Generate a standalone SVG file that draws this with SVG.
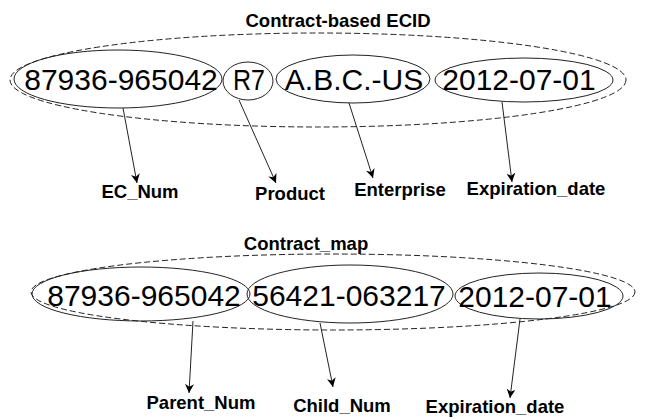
<svg xmlns="http://www.w3.org/2000/svg" width="650" height="420" viewBox="0 0 650 420">
<style>
.outer{fill:none;stroke:#222;stroke-width:1;stroke-dasharray:6,3}
.field{fill:none;stroke:#222;stroke-width:1}
.val{font-family:"Liberation Sans",Arial,sans-serif;font-size:30px;fill:#000;text-anchor:middle}
.lbl{font-family:"Liberation Sans",Arial,sans-serif;font-size:18.5px;font-weight:bold;fill:#000;text-anchor:middle}
.conn{stroke:#222;stroke-width:1;fill:none;marker-end:url(#ah)}
</style>
<defs>
<marker id="ah" viewBox="0 0 10 10" refX="10" refY="5" markerWidth="9" markerHeight="9" markerUnits="userSpaceOnUse" orient="auto">
<path d="M0,0 L10,5 L0,10 L3,5 z" fill="#000"/>
</marker>
</defs>
<rect width="650" height="420" fill="#fff"/>

<g id="ecid">
<text class="lbl" x="338" y="27">Contract-based ECID</text>
<ellipse class="outer" cx="318" cy="80" rx="308" ry="47"/>
</g>
<g id="ec_num_val">
<ellipse class="field" cx="118" cy="79" rx="104" ry="29"/>
<text class="val" x="121" y="90">87936-965042</text>
</g>
<g id="product_val">
<ellipse class="field" cx="248" cy="81" rx="25" ry="19"/>
<text class="val" x="249" y="90" textLength="32" lengthAdjust="spacingAndGlyphs">R7</text>
</g>
<g id="enterprise_val">
<ellipse class="field" cx="353" cy="79" rx="77" ry="24"/>
<text class="val" x="354" y="90">A.B.C.-US</text>
</g>
<g id="exp_val1">
<ellipse class="field" cx="524" cy="80" rx="89" ry="22"/>
<text class="val" x="519" y="90">2012-07-01</text>
</g>
<g id="ec_num"><text class="lbl" x="140" y="198">EC_Num</text></g>
<g id="product"><text class="lbl" x="290" y="200">Product</text></g>
<g id="enterprise"><text class="lbl" x="400" y="196">Enterprise</text></g>
<g id="expiration1"><text class="lbl" x="536" y="195">Expiration_date</text></g>

<g id="cmap">
<text class="lbl" x="306" y="250">Contract_map</text>
<ellipse class="outer" cx="333" cy="292" rx="302" ry="38"/>
</g>
<g id="parent_val">
<ellipse class="field" cx="141" cy="294" rx="109" ry="27"/>
<text class="val" x="144" y="306">87936-965042</text>
</g>
<g id="child_val">
<ellipse class="field" cx="350" cy="294" rx="103" ry="29"/>
<text class="val" x="349" y="306">56421-063217</text>
</g>
<g id="exp_val2">
<ellipse class="field" cx="539" cy="296" rx="84" ry="23"/>
<text class="val" x="535" y="307">2012-07-01</text>
</g>
<g id="parent_num"><text class="lbl" x="201" y="409">Parent_Num</text></g>
<g id="child_num"><text class="lbl" x="342" y="412">Child_Num</text></g>
<g id="expiration2"><text class="lbl" x="495" y="413">Expiration_date</text></g>

<g id="connectors">
<line class="conn" x1="123" y1="108" x2="137" y2="183"/>
<line class="conn" x1="239" y1="100" x2="276" y2="183"/>
<line class="conn" x1="349" y1="103" x2="373" y2="178"/>
<line class="conn" x1="502" y1="102" x2="512" y2="182"/>
<line class="conn" x1="193" y1="321" x2="189" y2="393"/>
<line class="conn" x1="320" y1="323" x2="333" y2="387"/>
<line class="conn" x1="520" y1="319" x2="510" y2="398"/>
</g>
</svg>
